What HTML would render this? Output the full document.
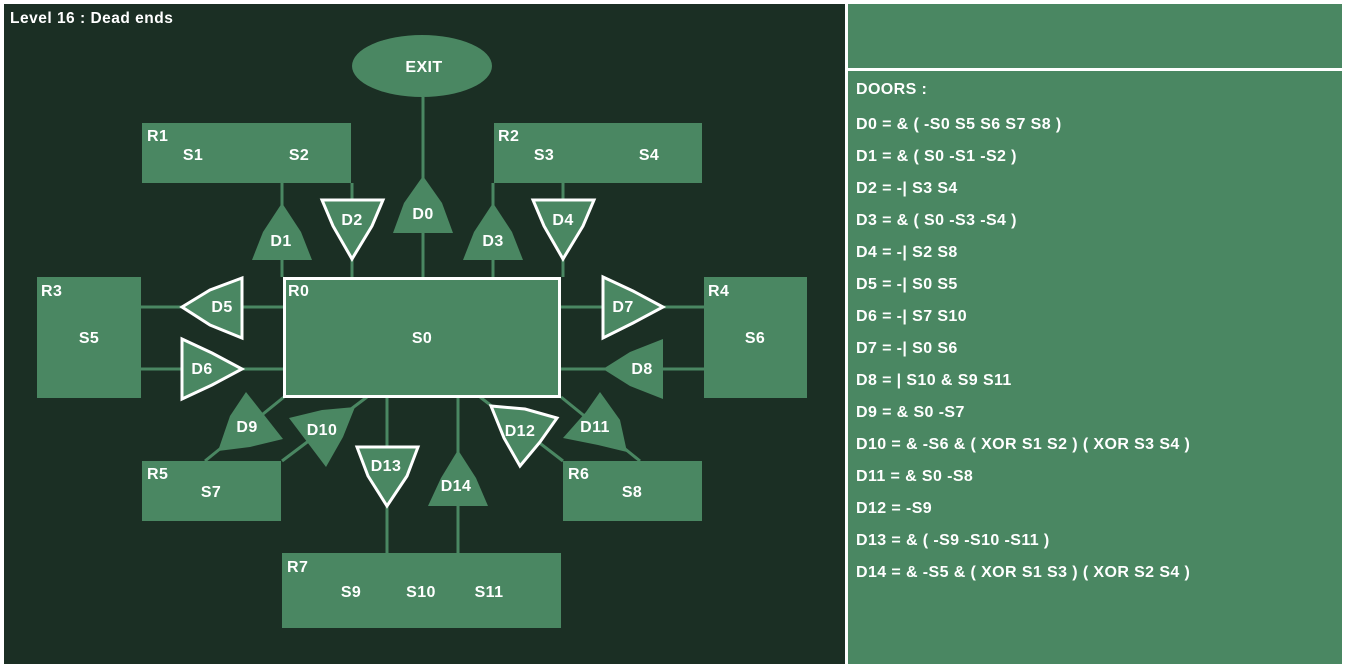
<!DOCTYPE html>
<html><head><style>
body{margin:0;background:#fff;width:1346px;height:668px;overflow:hidden}
svg{display:block}
text{font-family:"Liberation Sans",sans-serif;font-weight:bold;fill:#fff;font-size:16px;letter-spacing:0.4px}
</style></head><body>
<svg width="1346" height="668" viewBox="0 0 1346 668">
<rect x="0" y="0" width="1346" height="668" fill="#fff"/>
<rect x="4" y="4" width="841" height="660" fill="#1b2f24"/>
<rect x="848" y="4" width="494" height="64" fill="#4a8762"/>
<rect x="848" y="71" width="494" height="593" fill="#4a8762"/>
<text x="10" y="23" style="font-size:15.5px;letter-spacing:0.5px">Level 16 : Dead ends</text>
<g stroke="#4a8762" stroke-width="3" fill="none">
<line x1="423" y1="97" x2="423" y2="277"/>
<line x1="282" y1="183" x2="282" y2="277"/>
<line x1="352" y1="183" x2="352" y2="277"/>
<line x1="493" y1="183" x2="493" y2="277"/>
<line x1="563" y1="183" x2="563" y2="277"/>
<line x1="141" y1="307" x2="283" y2="307"/>
<line x1="141" y1="369" x2="283" y2="369"/>
<line x1="561" y1="307" x2="704" y2="307"/>
<line x1="561" y1="369" x2="704" y2="369"/>
<line x1="387" y1="398" x2="387" y2="553"/>
<line x1="458" y1="398" x2="458" y2="553"/>
<line x1="284" y1="397" x2="205" y2="461"/>
<line x1="367" y1="397" x2="282" y2="461"/>
<line x1="480" y1="397" x2="563" y2="461"/>
<line x1="561" y1="397" x2="640" y2="461"/>
</g>
<g fill="#4a8762">
<ellipse cx="422" cy="66" rx="70" ry="31"/>
<rect x="142" y="123" width="209" height="60"/>
<rect x="494" y="123" width="208" height="60"/>
<rect x="37" y="277" width="104" height="121"/>
<rect x="704" y="277" width="103" height="121"/>
<rect x="142" y="461" width="139" height="60"/>
<rect x="563" y="461" width="139" height="60"/>
<rect x="282" y="553" width="279" height="75"/>
<rect x="284.5" y="278.5" width="275" height="118" stroke="#fff" stroke-width="3"/>
<polygon points="423,176 404,203 393,233 453,233 442,203"/>
<polygon points="282,203 263,232 252,260 312,260 301,232"/>
<polygon points="493,203 474,232 463,260 523,260 512,232"/>
<polygon points="603,369 630,352 663,339 663,399 630,386"/>
<polygon points="246,392 230,416 218,451 250,447 283,439"/>
<polygon points="289,418 322,410 355,407 343,437 326,467"/>
<polygon points="600,392 586,412 563,438 598,445 627,452 620,420"/>
<polygon points="458,450 441,478 428,506 488,506 476,478"/>
</g>
<g fill="#4a8762" stroke="#fff" stroke-width="3" stroke-linejoin="miter">
<polygon points="322,200 383,200 372,226 352,259 333,226"/>
<polygon points="533,200 594,200 583,226 563,259 544,226"/>
<polygon points="182,307 210,290 242,278 242,338 210,325"/>
<polygon points="182,339 182,399 212,385 242,369 212,353"/>
<polygon points="603,277 603,338 633,323 663,307 633,291"/>
<polygon points="491,406 525,409 557,418 540,442 520,466 504,438"/>
<polygon points="357,447 418,447 407,476 387,506 368,476"/>
</g>
<g text-anchor="middle">
<text x="424" y="72">EXIT</text>
<text x="423" y="219">D0</text>
<text x="281" y="246">D1</text>
<text x="352" y="225">D2</text>
<text x="493" y="246">D3</text>
<text x="563" y="225">D4</text>
<text x="222" y="312">D5</text>
<text x="202" y="374">D6</text>
<text x="623" y="312">D7</text>
<text x="642" y="374">D8</text>
<text x="247" y="432">D9</text>
<text x="322" y="435">D10</text>
<text x="520" y="436">D12</text>
<text x="595" y="432">D11</text>
<text x="386" y="471">D13</text>
<text x="456" y="491">D14</text>
<text x="193" y="160">S1</text>
<text x="299" y="160">S2</text>
<text x="544" y="160">S3</text>
<text x="649" y="160">S4</text>
<text x="89" y="343">S5</text>
<text x="422" y="343">S0</text>
<text x="755" y="343">S6</text>
<text x="211" y="497">S7</text>
<text x="632" y="497">S8</text>
<text x="351" y="597">S9</text>
<text x="421" y="597">S10</text>
<text x="489" y="597">S11</text>
</g>
<text x="147" y="141">R1</text>
<text x="498" y="141">R2</text>
<text x="41" y="296">R3</text>
<text x="288" y="296">R0</text>
<text x="708" y="296">R4</text>
<text x="147" y="479">R5</text>
<text x="568" y="479">R6</text>
<text x="287" y="572">R7</text>
<g>
<text x="856" y="94">DOORS :</text>
<text x="856" y="129">D0 = &amp; ( -S0 S5 S6 S7 S8 )</text>
<text x="856" y="161">D1 = &amp; ( S0 -S1 -S2 )</text>
<text x="856" y="193">D2 = -| S3 S4</text>
<text x="856" y="225">D3 = &amp; ( S0 -S3 -S4 )</text>
<text x="856" y="257">D4 = -| S2 S8</text>
<text x="856" y="289">D5 = -| S0 S5</text>
<text x="856" y="321">D6 = -| S7 S10</text>
<text x="856" y="353">D7 = -| S0 S6</text>
<text x="856" y="385">D8 = | S10 &amp; S9 S11</text>
<text x="856" y="417">D9 = &amp; S0 -S7</text>
<text x="856" y="449">D10 = &amp; -S6 &amp; ( XOR S1 S2 ) ( XOR S3 S4 )</text>
<text x="856" y="481">D11 = &amp; S0 -S8</text>
<text x="856" y="513">D12 = -S9</text>
<text x="856" y="545">D13 = &amp; ( -S9 -S10 -S11 )</text>
<text x="856" y="577">D14 = &amp; -S5 &amp; ( XOR S1 S3 ) ( XOR S2 S4 )</text>
</g>
</svg>
</body></html>
